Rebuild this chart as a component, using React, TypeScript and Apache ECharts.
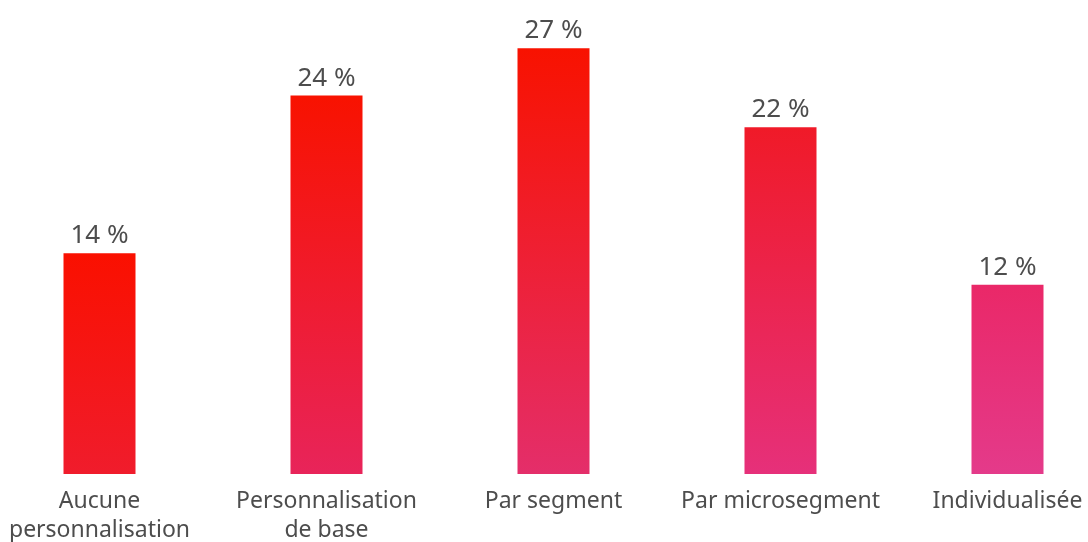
import React, { useEffect, useRef } from "react";
import * as echarts from "echarts";

const categories = ["Aucune\npersonnalisation", "Personnalisation\nde base", "Par segment", "Par microsegment", "Individualisée"];
const values = [14, 24, 27, 22, 12];
const topColors = ["#fa1000", "#f81200", "#f81200", "#f01a28", "#ea2868"];
const bottomColors = ["#f01c2c", "#e8245a", "#e42e6a", "#e6307a", "#e43a8a"];

export default function App() {
  const ref = useRef<HTMLDivElement>(null);
  useEffect(() => {
    const chart = echarts.init(ref.current!, null, { renderer: "svg" });
    chart.setOption({
      animation: false,
      grid: { left: -14, width: 1135, top: 1, bottom: 68, containLabel: false, outerBoundsMode: "none" },
      xAxis: {
        type: "category",
        data: categories,
        axisLine: { show: false },
        axisTick: { show: false },
        axisLabel: {
          interval: 0,
          color: "#4d4d4d",
          fontSize: 23,
          fontFamily: "Noto Sans",
          lineHeight: 29,
          margin: 10,
        },
      },
      yAxis: { type: "value", min: 0, max: 30, show: false, splitLine: { show: false } },
      series: [
        {
          type: "bar",
          barWidth: 72,
          data: values.map((v, i) => ({
            value: v,
            itemStyle: {
              color: new echarts.graphic.LinearGradient(0, 0, 0, 1, [
                { offset: 0, color: topColors[i] },
                { offset: 1, color: bottomColors[i] },
              ]),
            },
          })),
          label: {
            show: true,
            position: "top",
            formatter: "{c} %",
            color: "#4d4d4d",
            fontSize: 26,
            fontFamily: "Noto Sans",
            distance: 7,
          },
        },
      ],
    });
    return () => chart.dispose();
  }, []);
  return <div ref={ref} style={{ position: "fixed", left: 0, top: 0, width: 1088, height: 542 }} />;
}
